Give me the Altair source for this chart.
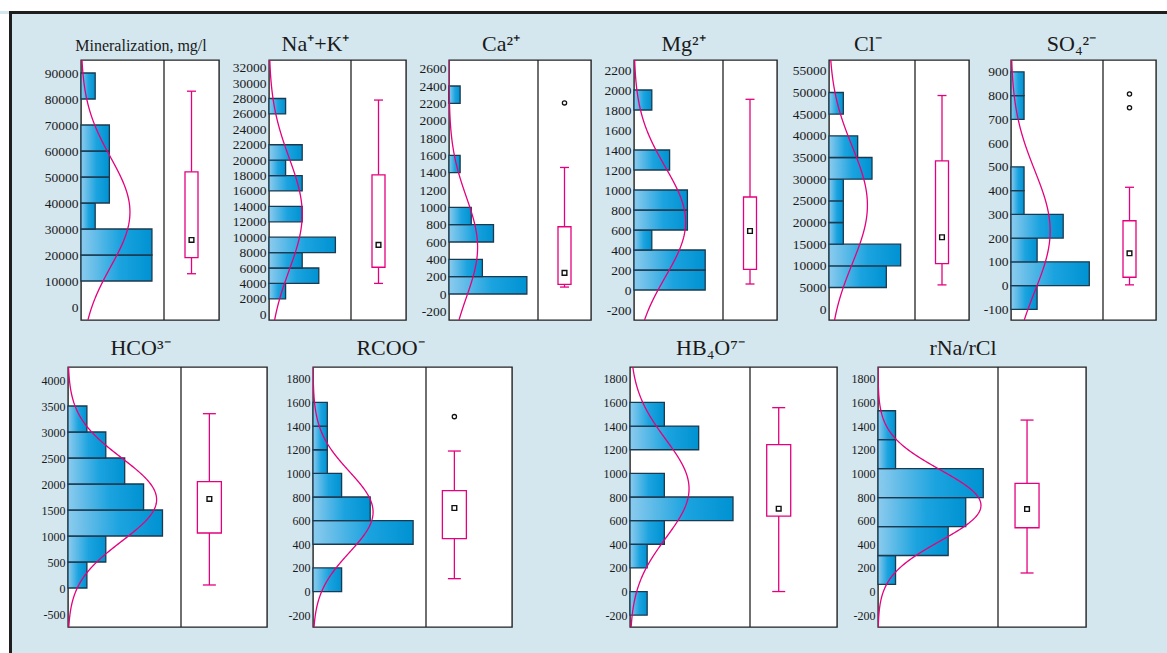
import altair as alt
import pandas as pd

# ---------------- data ----------------
TITLES = ["Mineralization,  mg/l", "Na\u207a+K\u207a", "Ca\u00b2\u207a", "Mg\u00b2\u207a", "Cl\u207b",
          "SO\u2084\u00b2\u207b", "HCO\u00b3\u207b", "RCOO\u207b", "HB\u2084O\u2077\u207b", "rNa/rCl"]

# histogram bins: lower edges, bin width, counts
MIN_EDGES = [10000, 20000, 30000, 40000, 50000, 60000, 80000]
MIN_BIN = 10000
MIN_COUNTS = [5, 5, 1, 2, 2, 2, 1]
NAK_EDGES = [2000, 4000, 6000, 8000, 12000, 16000, 18000, 20000, 26000]
NAK_BIN = 2000
NAK_COUNTS = [1, 3, 2, 4, 2, 2, 1, 2, 1]
CA_EDGES = [0, 200, 600, 800, 1400, 2200]
CA_BIN = 200
CA_COUNTS = [7, 3, 4, 2, 1, 1]
MG_EDGES = [0, 200, 400, 600, 800, 1200, 1800]
MG_BIN = 200
MG_COUNTS = [4, 4, 1, 3, 3, 2, 1]
CL_EDGES = [5000, 10000, 15000, 20000, 25000, 30000, 35000, 45000]
CL_BIN = 5000
CL_COUNTS = [4, 5, 1, 1, 1, 3, 2, 1]
SO4_EDGES = [-100, 0, 100, 200, 300, 400, 700, 800]
SO4_BIN = 100
SO4_COUNTS = [2, 6, 2, 4, 1, 1, 1, 1]
HCO_EDGES = [0, 500, 1000, 1500, 2000, 2500, 3000]
HCO_BIN = 500
HCO_COUNTS = [1, 2, 5, 4, 3, 2, 1]
RCOO_EDGES = [0, 400, 600, 800, 1000, 1200, 1400]
RCOO_BIN = 200
RCOO_COUNTS = [2, 7, 4, 2, 1, 1, 1]
HB_EDGES = [-200, 200, 400, 600, 800, 1200, 1400]
HB_BIN = 200
HB_COUNTS = [1, 1, 2, 6, 2, 4, 2]
RNA_EDGES = [60, 305, 550, 795, 1040, 1285]
RNA_BIN = 245
RNA_COUNTS = [1, 4, 5, 6, 1, 1]

# box plots: whisker low, Q1, median, Q3, whisker high
MIN_BOX = [12800, 19000, 25800, 52000, 83000]
NAK_BOX = [4000, 6100, 9000, 18100, 27800]
CA_BOX = [80, 111, 244, 776, 1460]
MG_BOX = [60, 207, 590, 930, 1907]
CL_BOX = [5600, 10500, 16600, 34200, 49300]
SO4_BOX = [3, 35, 136, 273, 414]
HCO_BOX = [58, 1058, 1712, 2044, 3352]
RCOO_BOX = [109, 448, 707, 854, 1189]
HB_BOX = [0, 639, 701, 1243, 1556]
RNA_BOX = [157, 540, 698, 915, 1451]

# outliers
CA_OUT = [2205]
SO4_OUT = [749, 807]
RCOO_OUT = [1480]

# fitted normal curves: mean, sd, peak height (in counts)
MIN_FIT = [36500, 21000, 3.45]
NAK_FIT = [13000, 7300, 2.0]
CA_FIT = [540, 580, 2.57]
MG_FIT = [680, 550, 2.9]
CL_FIT = [24000, 13500, 2.68]
SO4_FIT = [230, 255, 3.0]
HCO_FIT = [1700, 800, 4.69]
RCOO_FIT = [673, 342, 4.2]
HB_FIT = [870, 417, 3.44]
RNA_FIT = [729, 300, 5.87]

# axis tick labels
MIN_TICKS = [0, 10000, 20000, 30000, 40000, 50000, 60000, 70000, 80000, 90000]
NAK_TICKS = [0, 2000, 4000, 6000, 8000, 10000, 12000, 14000, 16000, 18000, 20000,
             22000, 24000, 26000, 28000, 30000, 32000]
CA_TICKS = [-200, 0, 200, 400, 600, 800, 1000, 1200, 1400, 1600, 1800, 2000, 2200, 2400, 2600]
MG_TICKS = [-200, 0, 200, 400, 600, 800, 1000, 1200, 1400, 1600, 1800, 2000, 2200]
CL_TICKS = [0, 5000, 10000, 15000, 20000, 25000, 30000, 35000, 40000, 45000, 50000, 55000]
SO4_TICKS = [-100, 0, 100, 200, 300, 400, 500, 600, 700, 800, 900]
HCO_TICKS = [-500, 0, 500, 1000, 1500, 2000, 2500, 3000, 3500, 4000]
K18_TICKS = [-200, 0, 200, 400, 600, 800, 1000, 1200, 1400, 1600, 1800]

# ---------------- styles / layout ----------------
FONT = "Liberation Serif"
TXT = "#1a1a1a"
MAG = "#e5007e"
FRAME = "#222222"
BAR_EDGE = "#1b3a50"
BG = "#d4e6ee"
GRAD = {"gradient": "linear", "x1": 0, "x2": 1, "y1": 0, "y2": 0,
        "stops": [{"offset": 0, "color": "#8ccbee"},
                  {"offset": 0.55, "color": "#1ba3df"},
                  {"offset": 1, "color": "#0092d2"}]}
H = 260
LABEL_EXPR = "replace(datum.label, '\u2212', '-')"


def panel(title, edges, binw, counts, box, outs, fit, dom, ticks, W, Wh, xmax,
          box_frac, box_w, cap, lab_size, title_size, title_dx, title_off):
    ysc = alt.Scale(domain=list(dom), nice=False, zero=False)
    yax = alt.Axis(values=ticks, ticks=False, domain=False, grid=False, labelPadding=3,
                   labelFont=FONT, labelFontSize=lab_size, labelColor=TXT, title=None,
                   labelOverlap=False, format="d", labelExpr=LABEL_EXPR)
    xsc = alt.Scale(domain=[0, xmax * W / Wh], nice=False, zero=False)
    hist = pd.DataFrame({"lo": edges, "hi": [e + binw for e in edges], "n": counts})
    hist["z"] = 0
    bars = alt.Chart(hist).mark_rect(fill=GRAD, stroke=BAR_EDGE, strokeWidth=1.3).encode(
        x=alt.X("z:Q", scale=xsc, axis=None), x2="n:Q",
        y=alt.Y("lo:Q", scale=ysc, axis=yax), y2="hi:Q")
    step = (dom[1] - dom[0]) / 160.0
    curve = alt.Chart(alt.sequence(dom[0], dom[1] + step / 2, step, as_="v")).transform_calculate(
        d=f"{fit[2]}*exp(-0.5*pow((datum.v-({fit[0]}))/{fit[1]},2))"
    ).mark_line(color=MAG, strokeWidth=1.3, clip=True).encode(
        x=alt.X("d:Q", scale=xsc, axis=None),
        y=alt.Y("v:Q", scale=ysc, axis=yax), order="v:Q")
    bx = pd.DataFrame({"lo": [box[0]], "q1": [box[1]], "med": [box[2]],
                       "q3": [box[3]], "hi": [box[4]]})
    xc = Wh + box_frac * (W - Wh)
    div = alt.Chart(bx).mark_rule(color=FRAME, strokeWidth=1.3).encode(
        x=alt.value(Wh), y=alt.value(0), y2=alt.value(H))
    whisk = alt.Chart(bx).mark_rule(color=MAG, strokeWidth=1.3).encode(
        x=alt.value(xc), y=alt.Y("lo:Q", scale=ysc, axis=yax), y2="hi:Q")
    caps = alt.Chart(bx).transform_fold(["lo", "hi"], as_=["k", "val"]).mark_rule(
        color=MAG, strokeWidth=1.3).encode(
        x=alt.value(xc - cap), x2=alt.value(xc + cap),
        y=alt.Y("val:Q", scale=ysc, axis=yax))
    boxm = alt.Chart(bx).mark_rect(fill="white", stroke=MAG, strokeWidth=1.3).encode(
        x=alt.value(xc - box_w / 2), x2=alt.value(xc + box_w / 2),
        y=alt.Y("q1:Q", scale=ysc, axis=yax), y2="q3:Q")
    med = alt.Chart(bx).mark_square(size=22, fill="white", stroke="#111111",
                                    strokeWidth=1.4, opacity=1).encode(
        x=alt.value(xc), y=alt.Y("med:Q", scale=ysc, axis=yax))
    layers = [bars, curve, div, whisk, caps, boxm, med]
    if outs:
        od = pd.DataFrame({"o": outs})
        layers.append(alt.Chart(od).mark_circle(size=18, fill="white", stroke="#111111",
                                                strokeWidth=1.3, opacity=1).encode(
            x=alt.value(xc), y=alt.Y("o:Q", scale=ysc, axis=yax)))
    return alt.layer(*layers).properties(
        width=W, height=H,
        view=alt.ViewBackground(fill="white", stroke=FRAME, strokeWidth=1.4),
        title=alt.TitleParams(title, font=FONT, fontSize=title_size, fontWeight="normal",
                              color=TXT, anchor="middle", frame="group", dx=title_dx,
                              offset=title_off, baseline="alphabetic"))


T = dict(box_frac=0.5, box_w=13, cap=4.5, lab_size=13.5, title_size=22, title_off=-14)
B = dict(box_frac=0.33, box_w=24, cap=6.5, lab_size=12, title_size=22, title_off=-10.5)

p1 = panel(TITLES[0], MIN_EDGES, MIN_BIN, MIN_COUNTS, MIN_BOX, [], MIN_FIT, (-5000, 95000),
           MIN_TICKS, 138, 83, 5.85, title_dx=-9,
           **{**T, "title_size": 16, "title_off": -8})
p2 = panel(TITLES[1], NAK_EDGES, NAK_BIN, NAK_COUNTS, NAK_BOX, [], NAK_FIT, (-750, 33000),
           NAK_TICKS, 137, 82, 4.94, title_dx=-22, **T)
p3 = panel(TITLES[2], CA_EDGES, CA_BIN, CA_COUNTS, CA_BOX, CA_OUT, CA_FIT, (-300, 2700),
           CA_TICKS, 142, 89, 8.0, title_dx=-19, **T)
p4 = panel(TITLES[3], MG_EDGES, MG_BIN, MG_COUNTS, MG_BOX, [], MG_FIT, (-300, 2300),
           MG_TICKS, 143, 89, 5.0, title_dx=-22, **T)
p5 = panel(TITLES[4], CL_EDGES, CL_BIN, CL_COUNTS, CL_BOX, [], CL_FIT, (-2500, 57500),
           CL_TICKS, 140, 86, 6.0, title_dx=-31, **T)
p6 = panel(TITLES[5], SO4_EDGES, SO4_BIN, SO4_COUNTS, SO4_BOX, SO4_OUT, SO4_FIT, (-145, 950),
           SO4_TICKS, 145, 92, 7.05, title_dx=-12, **T)
p7 = panel(TITLES[6], HCO_EDGES, HCO_BIN, HCO_COUNTS, HCO_BOX, [], HCO_FIT, (-750, 4250),
           HCO_TICKS, 199, 113, 5.98, title_dx=-27, **B)
p8 = panel(TITLES[7], RCOO_EDGES, RCOO_BIN, RCOO_COUNTS, RCOO_BOX, RCOO_OUT, RCOO_FIT,
           (-300, 1900), K18_TICKS, 199, 113, 7.9, title_dx=-22, **B)
p9 = panel(TITLES[8], HB_EDGES, HB_BIN, HB_COUNTS, HB_BOX, [], HB_FIT, (-300, 1900),
           K18_TICKS, 207, 120, 6.99, title_dx=-23, **B)
p10 = panel(TITLES[9], RNA_EDGES, RNA_BIN, RNA_COUNTS, RNA_BOX, [], RNA_FIT, (-300, 1900),
            K18_TICKS, 208, 120, 6.84, title_dx=-19, **B)

row1 = alt.hconcat(alt.hconcat(p1, p2, p3, p4, spacing=11), alt.hconcat(p5, p6, spacing=12),
                   spacing=13)
row2 = alt.hconcat(alt.hconcat(p7, p8, spacing=17), alt.hconcat(p9, p10, spacing=12),
                   spacing=89)

# decorative page border (white margin + dark frame line)
ONE = pd.DataFrame({"a": [0]})
NOVIEW = alt.ViewBackground(fill=None, stroke=None)


def strip(x1, x2, y1, y2, color):
    return alt.Chart(ONE).mark_rect(fill=color).encode(
        x=alt.value(x1), x2=alt.value(x2), y=alt.value(y1), y2=alt.value(y2))


header = alt.layer(strip(0, 1167, 0, 11, "white"), strip(9, 1167, 11, 14, "#1e1e1e")).properties(
    width=1167, height=14, view=NOVIEW)
left1 = alt.layer(strip(0, 9, -46, 262, "white"), strip(9, 12, -46, 262, "#1e1e1e")).properties(
    width=43, height=H, view=NOVIEW)
left2 = alt.layer(strip(0, 9, -45, 286, "white"), strip(9, 12, -45, 286, "#1e1e1e")).properties(
    width=40, height=H, view=NOVIEW)

block1 = alt.hconcat(left1, row1, spacing=0)
block2 = alt.hconcat(left2, row2, spacing=0)

chart = alt.vconcat(header, block1, block2, spacing=0).properties(
    background=BG, padding=0
).configure_view(stroke=None)

chart.save("out.html", embed_options={"renderer": "svg", "actions": False})
